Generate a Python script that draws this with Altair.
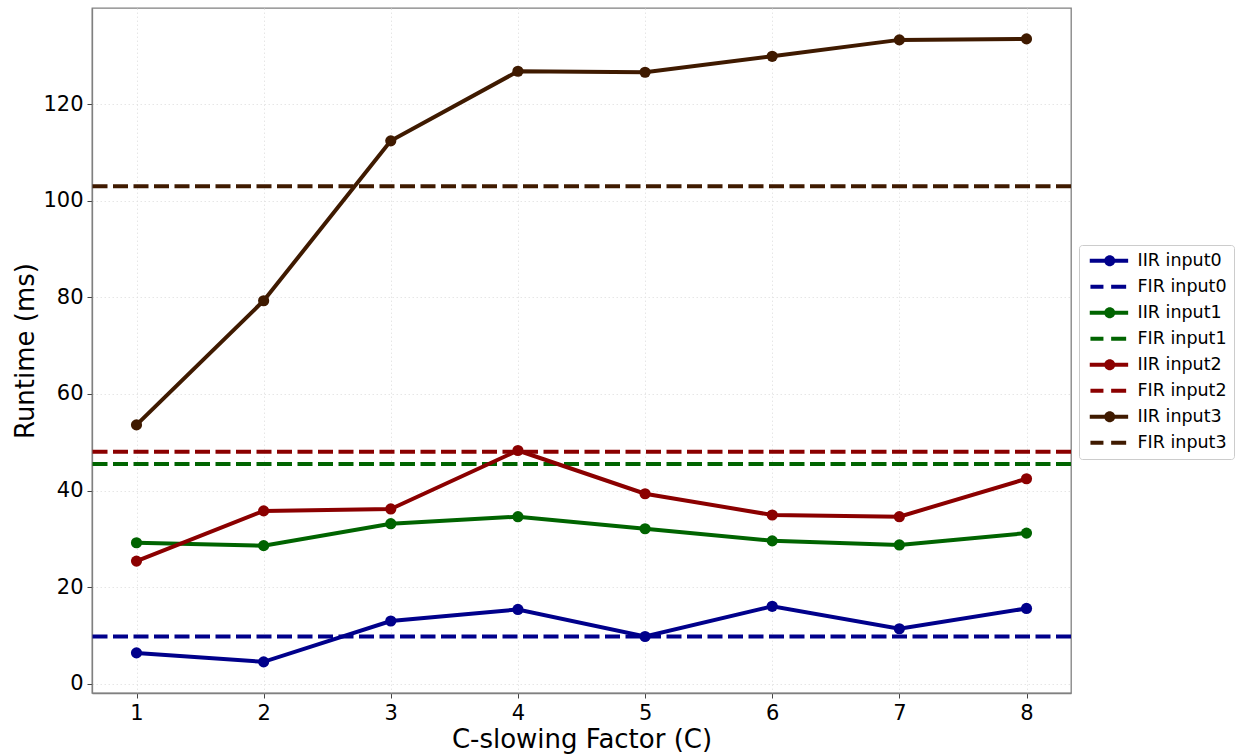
import altair as alt
import pandas as pd

# ---- data ----
c_factor = [1, 2, 3, 4, 5, 6, 7, 8]
iir_input0 = [6.4, 4.55, 13.0, 15.4, 9.8, 16.05, 11.4, 15.6]
iir_input1 = [29.2, 28.6, 33.15, 34.6, 32.1, 29.6, 28.75, 31.2]
iir_input2 = [25.4, 35.8, 36.2, 48.3, 39.35, 34.95, 34.6, 42.45]
iir_input3 = [53.6, 79.3, 112.4, 126.8, 126.6, 129.9, 133.3, 133.5]
fir_values = [9.8, 45.5, 48.05, 103.0]

iir_names = ["IIR input0", "IIR input1", "IIR input2", "IIR input3"]
fir_names = ["FIR input0", "FIR input1", "FIR input2", "FIR input3"]
series_order = ["IIR input0", "FIR input0", "IIR input1", "FIR input1",
                "IIR input2", "FIR input2", "IIR input3", "FIR input3"]
base_colors = ["#00008b", "#006400", "#8b0000", "#3f1a00"]
series_colors = [c for c in base_colors for _ in (0, 1)]

x_ticks = [1, 2, 3, 4, 5, 6, 7, 8]
y_ticks = [0, 20, 40, 60, 80, 100, 120]

# legend glyphs (unit = 5 px at symbol size 100)
iir_glyph = "M-1,-0.4H6.68V0.4H-1Z M4.1,0A1.1,1.1 0 1,1 1.9,0A1.1,1.1 0 1,1 4.1,0Z"
fir_glyph = "M-0.86,-0.4H1.74V0.4H-0.86Z M3.28,-0.4H6.28V0.4H3.28Z"
legend_shapes = [iir_glyph, fir_glyph] * 4

# ---- tables ----
rows = []
for name, vals in zip(iir_names, [iir_input0, iir_input1, iir_input2, iir_input3]):
    for c, v in zip(c_factor, vals):
        rows.append({"C": c, "Runtime": v, "series": name})
iir_df = pd.DataFrame(rows)
fir_df = pd.DataFrame({"Runtime": fir_values, "series": fir_names})
legend_df = pd.DataFrame({"series": series_order,
                          "C": [None] * 8, "Runtime": [None] * 8})

FONT = "DejaVu Sans"

color_scale = alt.Scale(domain=series_order, range=series_colors)
x_scale = alt.Scale(domain=[0.65, 8.35], nice=False, zero=False)
y_scale = alt.Scale(domain=[-1.9, 139.9], nice=False, zero=False)

x_axis = alt.Axis(values=x_ticks, title="C-slowing Factor (C)", format="d",
                  labelFontSize=21, titleFontSize=26,
                  titleY=54, titleBaseline="alphabetic")
y_axis = alt.Axis(values=y_ticks, title="Runtime (ms)", format="d",
                  labelFontSize=21, titleFontSize=26,
                  titleX=-59, titleBaseline="alphabetic")

legend_def = alt.Legend(
    title=None, orient="none", legendX=987, legendY=237, direction="vertical",
    labelFontSize=17.5, labelFont=FONT, labelColor="black", labelOffset=34,
    rowPadding=7, padding=7, strokeColor="#cccccc", fillColor="white",
    cornerRadius=3, symbolSize=100, symbolStrokeWidth=0)

legend_layer = alt.Chart(legend_df).mark_point(filled=True, opacity=1, size=100).encode(
    x=alt.X("C:Q", scale=x_scale, axis=x_axis),
    y=alt.Y("Runtime:Q", scale=y_scale, axis=y_axis),
    color=alt.Color("series:N", scale=color_scale, legend=legend_def),
    shape=alt.Shape("series:N",
                    scale=alt.Scale(domain=series_order, range=legend_shapes),
                    legend=legend_def),
)

rules = alt.Chart(fir_df).mark_rule(strokeWidth=4, strokeDash=[15, 5.5]).encode(
    y=alt.Y("Runtime:Q", scale=y_scale, axis=y_axis),
    color=alt.Color("series:N", scale=color_scale, legend=None),
)

lines = alt.Chart(iir_df).mark_line(strokeWidth=4).encode(
    x=alt.X("C:Q", scale=x_scale, axis=x_axis),
    y=alt.Y("Runtime:Q", scale=y_scale, axis=y_axis),
    color=alt.Color("series:N", scale=color_scale, legend=None),
    detail="series:N",
)

points = alt.Chart(iir_df).mark_circle(size=125, opacity=1).encode(
    x=alt.X("C:Q", scale=x_scale, axis=x_axis),
    y=alt.Y("Runtime:Q", scale=y_scale, axis=y_axis),
    color=alt.Color("series:N", scale=color_scale, legend=None),
)

chart = alt.layer(legend_layer, rules, lines, points).properties(
    width=979, height=685,
    autosize=alt.AutoSizeParams(type="none"),
    padding={"left": 92, "top": 8, "right": 168, "bottom": 61},
    background="white",
).configure_view(
    stroke="#808080", strokeWidth=1.3
).configure_axis(
    labelFont=FONT, titleFont=FONT, labelFontSize=21, titleFontSize=26,
    titleFontWeight="normal", labelColor="black", titleColor="black",
    domainColor="#808080", domainWidth=1.3, tickColor="#444444", tickSize=5,
    tickWidth=1, labelPadding=4, gridColor="#e0e0e0", gridWidth=0.8,
    gridDash=[1.5, 2.5],
)

chart.save("out.html", embed_options={"renderer": "svg", "actions": False})
